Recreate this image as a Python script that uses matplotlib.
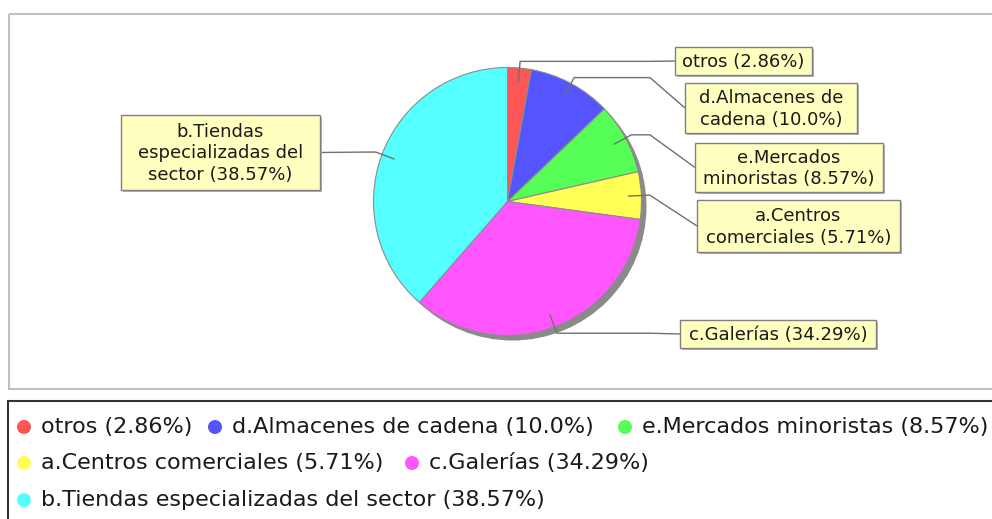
import textwrap
import numpy as np
import matplotlib
matplotlib.use('Agg')
import matplotlib.pyplot as plt
import matplotlib.patches as patches

plt.rcParams['font.family'] = ['DejaVu Sans']

W, H = 992, 519

# ── data ──
categories = ['otros', 'd.Almacenes de cadena', 'e.Mercados minoristas',
              'a.Centros comerciales', 'c.Galerías',
              'b.Tiendas especializadas del sector']
counts = [2, 7, 6, 4, 24, 27]
colors = ['#FF5555', '#5555FF', '#55FF55', '#FFFF55', '#FF55FF', '#55FFFF']

# ── layout (pixels, y down) ──
CX, CY, R = 507.5, 201.5, 134
label_boxes = [(675, 47, 137, 28), (685, 83, 172, 50), (695, 143, 188, 49),
               (697, 200, 203, 52), (680, 320, 196, 28), (121, 115, 199, 75)]
legend_marks = [(24, 427), (215, 427), (625, 427), (24, 463), (412, 463), (24, 500)]
LINE = '#707070'


def pct_text(v, total):
    s = '{:.2f}'.format(v / total * 100).rstrip('0')
    if s.endswith('.'):
        s += '0'
    return s + '%'


total = sum(counts)
texts = ['{} ({})'.format(c, pct_text(v, total)) for c, v in zip(categories, counts)]

fig = plt.figure(figsize=(W / 100, H / 100), dpi=100)
fig.patch.set_facecolor('white')
ax = fig.add_axes([0, 0, 1, 1])

# shadow under the pie
ax.add_patch(patches.Circle((CX + 5, CY + 5), R, facecolor='#8a8a8a',
                            edgecolor='none', zorder=1))

# y axis is flipped below, so counter-clockwise in data = clockwise on screen
wedges, _ = ax.pie(counts, colors=colors, center=(CX, CY), radius=R,
                   startangle=-90, counterclock=True, frame=True,
                   wedgeprops=dict(edgecolor='#8c8c8c', linewidth=0.8))
for w in wedges:
    w.set_zorder(2)

ax.set_xlim(0, W)
ax.set_ylim(H, 0)
ax.axis('off')

# plot area border
ax.add_patch(patches.Rectangle((8.5, 13.5), 1100, 375.5, facecolor='none',
                               edgecolor='#c0c0c0', linewidth=1.5, zorder=0))

# labels with leader lines
for w, txt, (bx, by, bw, bh) in zip(wedges, texts, label_boxes):
    th = np.radians((w.theta1 + w.theta2) / 2)
    dx, dy = np.cos(th), np.sin(th)
    inner = (CX + 0.9 * R * dx, CY + 0.9 * R * dy)
    elbow = (CX + 1.05 * R * dx, CY + 1.05 * R * dy)
    if dx >= 0:
        anchor = (CX + 1.063 * R, elbow[1])
        end = (bx, by + bh / 2)
    else:
        anchor = (CX - 1.063 * R, elbow[1])
        end = (bx + bw, by + bh / 2)
    xs = [inner[0], elbow[0], anchor[0], end[0]]
    ys = [inner[1], elbow[1], anchor[1], end[1]]
    ax.plot(xs, ys, color=LINE, linewidth=1.0, zorder=3, solid_capstyle='butt')

    ax.add_patch(patches.Rectangle((bx + 2, by + 2), bw, bh, facecolor='#b4b4b4',
                                   edgecolor='none', zorder=4))
    ax.add_patch(patches.Rectangle((bx, by), bw, bh, facecolor='#FFFFC0',
                                   edgecolor='#808080', linewidth=1.0, zorder=5))
    ax.text(bx + bw / 2, by + bh / 2 + 1, textwrap.fill(txt, 19), fontsize=13,
            color='#1a1a1a', ha='center', va='center', multialignment='center',
            linespacing=1.28, zorder=6)

# legend box
ax.add_patch(patches.Rectangle((8, 401), 1100, 200, facecolor='white',
                               edgecolor='#333333', linewidth=1.5, zorder=0))
for (mx, my), txt, c in zip(legend_marks, texts, colors):
    ax.add_patch(patches.Circle((mx, my), 7, facecolor=c, edgecolor='none', zorder=3))
    ax.text(mx + 17, my, txt, fontsize=16, color='#1a1a1a',
            ha='left', va='center', zorder=3)

fig.savefig('out.png', dpi=100, facecolor='white')
